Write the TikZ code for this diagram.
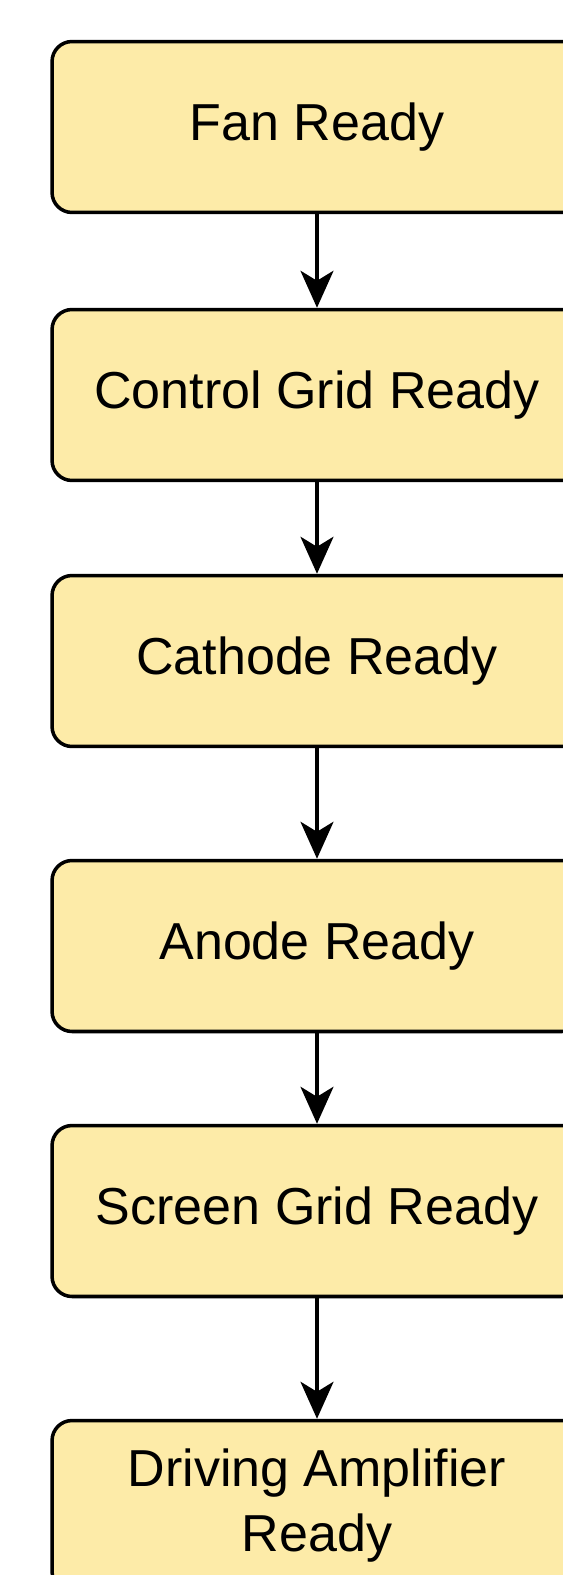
\documentclass[tikz,border=0pt]{standalone}
\usepackage{fontspec}
\setmainfont{Liberation Sans}
\usetikzlibrary{arrows.meta}
\definecolor{amarillo}{RGB}{253,235,168}
\begin{document}
\begin{tikzpicture}[x=0.02cm,y=-0.02cm]
\tikzset{
    caja/.style={draw=black, fill=amarillo, line width=2pt, rounded corners=0.4cm,
      minimum width=10.6cm, minimum height=3.42cm, align=center,
      font=\fontsize{29.6}{37}\selectfont},
    flecha/.style={draw=black, line width=1.9pt, -{Stealth[length=0.74cm, width=0.66cm, inset=0.2cm]}}
}
\useasboundingbox (0,0) rectangle (563,1575);
\clip (0,0) rectangle (563,1575);
\node[caja] (ventilador) at (317,127) {Fan Ready};
\node[caja] (rejilla) at (317,395) {Control Grid Ready};
\node[caja] (catodo) at (317,661) {Cathode Ready};
\node[caja] (anodo) at (317,946) {Anode Ready};
\node[caja] (pantalla) at (317,1211) {Screen Grid Ready};
\node[caja] (amplificador) at (317,1506) {Driving Amplifier\\Ready};
\draw[flecha] (ventilador) -- (rejilla);
\draw[flecha] (rejilla) -- (catodo);
\draw[flecha] (catodo) -- (anodo);
\draw[flecha] (anodo) -- (pantalla);
\draw[flecha] (pantalla) -- (amplificador);
\end{tikzpicture}
\end{document}
